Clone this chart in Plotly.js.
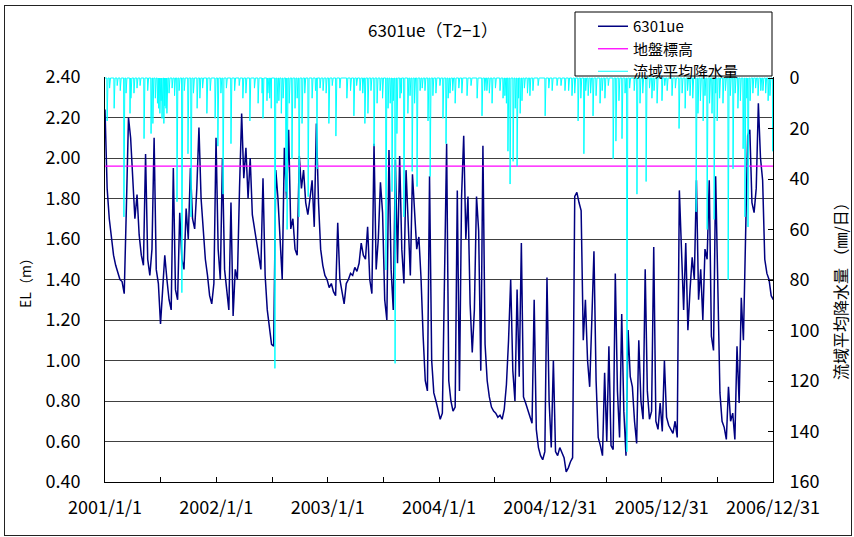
<!DOCTYPE html>
<html><head><meta charset="utf-8">
<script src="https://cdn.plot.ly/plotly-3.0.1.min.js"></script>
<style>
html,body{margin:0;padding:0;background:#fff;}
#chart{width:854px;height:537px;position:absolute;left:0;top:0;}
#frame{position:absolute;left:4px;top:5px;width:846px;height:529px;border:1px solid #222;pointer-events:none;}
</style></head><body>
<div id="chart"></div><div id="frame"></div>
<script>
// ---- data ----
const startDate = Date.UTC(2001, 0, 1);
const stepDays = 7;               // water level read once a week
const totalDays = 2190;           // 2001/1/1 .. 2006/12/31
const groundLevel = 1.96;         // 地盤標高 (m)

const wl2001 = [2.24,1.85,1.70,1.60,1.52,1.47,1.43,1.40,1.39,1.33,
 1.75,2.20,2.10,1.90,1.70,1.82,1.62,1.52,1.47,2.02,
 1.50,1.42,1.55,2.10,1.45,1.38,1.18,1.35,1.52,1.40,
 1.30,1.25,1.95,1.35,1.30,1.73,1.50,1.45,1.75,1.60,
 1.95,1.70,1.65,1.85,2.15,1.80,1.62,1.50,1.42,1.32,
 1.28,1.38];
const wl2002 = [2.10,1.55,1.40,2.00,1.45,1.35,1.25,1.78,1.22,1.45,
 1.40,1.85,2.22,1.90,2.05,1.80,2.00,1.72,1.65,1.58,
 1.50,1.45,1.90,1.42,1.25,1.15,1.08,1.07,1.94,1.80,
 1.58,1.40,2.05,1.80,2.14,1.65,1.70,1.55,1.52,2.01,
 1.85,1.94,1.78,1.72,1.80,1.89,1.66,2.17,1.78,1.55,
 1.47,1.42];
const wl2003 = [1.40,1.36,1.38,1.34,1.32,1.68,1.40,1.33,1.28,1.38,
 1.40,1.43,1.42,1.46,1.44,1.48,1.58,1.52,1.50,1.66,
 1.40,1.33,2.07,1.45,1.60,1.88,1.73,1.30,1.20,2.04,
 1.45,1.25,1.99,1.48,2.01,1.55,1.38,1.94,1.70,1.42,
 1.92,1.73,1.55,1.61,1.41,1.12,0.90,0.85,1.91,1.00,
 0.84,0.80];
const wl2004 = [0.76,0.71,0.74,1.40,2.07,0.90,0.80,0.75,0.77,1.84,
 0.85,1.81,2.11,1.60,1.81,1.28,1.04,1.25,1.81,1.64,
 0.95,2.06,1.08,0.90,0.82,0.77,0.75,0.74,0.72,0.73,
 0.71,0.76,0.88,1.10,1.40,0.95,0.80,1.35,0.92,1.58,
 0.82,0.79,0.76,0.73,0.69,1.30,0.66,0.57,0.53,0.51,
 0.55,1.41];
const wl2005 = [0.80,0.57,1.00,0.55,0.53,0.57,0.54,0.52,0.45,0.47,
 0.50,0.52,1.81,1.83,1.78,1.74,1.10,1.30,1.00,0.87,
 1.20,1.54,0.90,0.62,0.58,0.53,0.94,0.60,1.07,0.58,
 0.56,1.43,0.85,0.62,1.23,0.75,0.53,1.15,0.92,0.87,
 0.70,0.59,1.10,0.80,0.71,1.45,0.85,0.71,0.75,1.56,
 0.70,0.66];
const wl2006 = [0.79,0.65,1.00,0.72,0.68,0.66,0.64,0.70,0.62,1.84,
 1.55,1.25,1.58,1.15,1.35,1.51,1.40,1.89,1.30,1.45,
 1.20,1.55,1.50,1.89,1.12,1.05,1.91,1.28,0.84,0.70,
 0.67,0.61,0.87,0.70,0.74,0.61,1.07,0.79,1.31,1.10,
 1.64,2.11,2.14,1.78,1.73,1.85,2.27,2.00,1.89,1.50,
 1.43,1.40,1.32,1.30];

// rain events: day offset from 2001/1/1 and mm/day
const rainDays = [7,30,62,69,82,85,105,128,151,157,180,187,193,200,203,236,243,252,272,282,302,311,334,361,370,387,413,452,475,502,515,518,531,534,557,564,584,593,597,613,623,636,646,666,679,695,715,734,757,793,816,836,852,862,882,892,902,921,928,941,951,957,967,980,993,1007,1023,1033,1049,1059,1066,1075,1098,1108,1118,1131,1148,1170,1187,1220,1236,1252,1269,1295,1311,1321,1328,1338,1351,1361,1367,1393,1403,1443,1466,1482,1508,1531,1551,1570,1584,1600,1623,1639,1666,1675,1695,1711,1744,1754,1774,1793,1810,1826,1843,1859,1882,1902,1918,1938,1944,1961,1974,1990,1997,2007,2026,2043,2059,2075,2092,2098,2108,2115,2141,2157,2174,2189];
const rainMm = [17,12,55,6,14,8,4,24,22,18,14,16,18,12,14,49,5,85,30,55,12,8,14,16,27,46,26,8,17,10,6,16,9,6,115,10,8,45,60,32,12,55,18,47,8,36,5,18,23,8,15,5,18,14,27,10,5,76,12,45,113,22,8,55,14,37,43,5,5,17,39,7,3,16,26,6,10,6,7,8,15,5,10,5,7,29,42,33,35,14,9,7,5,15,5,3,5,7,17,30,7,15,10,8,32,25,24,148,46,10,41,8,10,9,5,7,20,12,7,53,14,17,60,14,56,17,10,80,36,12,28,55,59,9,7,5,9,29];
const lightRainDays = [15,40,50,95,115,140,165,172,176,184,196,210,220,228,260,290,320,345,380,398,425,440,462,490,540,545,570,578,604,630,655,690,705,725,745,770,805,825,845,872,910,935,945,972,1000,1015,1040,1085,1125,1140,1160,1200,1245,1260,1280,1305,1316,1345,1356,1375,1385,1420,1455,1495,1520,1540,1560,1576,1592,1610,1630,1650,1685,1705,1720,1735,1763,1785,1800,1835,1870,1892,1910,1927,1952,1967,1982,2002,2015,2034,2050,2066,2083,2104,2124,2133,2150,2166,2180];
const lightRainMm = [4,3,5,6,3,5,8,10,12,9,11,6,4,7,5,6,4,5,6,4,5,3,6,4,8,12,9,14,10,8,6,5,4,6,3,4,5,3,6,5,8,10,9,6,7,10,4,6,8,5,4,3,5,6,4,8,10,12,8,4,6,3,4,3,5,6,8,5,6,7,5,3,9,6,4,5,6,4,5,3,4,6,5,8,9,7,10,6,8,5,7,6,9,8,6,4,5,6,7];

const xTickLabels = ['2001/1/1','2002/1/1','2003/1/1','2004/1/1','2004/12/31','2005/12/31','2006/12/31'];
const seriesNames = ['6301ue','地盤標高','流域平均降水量'];
const rightAxisTitle = '流域平均降水量 （㎜/日）';

// ---- build ----
function toDate(days){
  const d = new Date(startDate + days*86400000);
  return d.toISOString().slice(0,19).replace('T',' ');
}
const wl = [].concat(wl2001, wl2002, wl2003, wl2004, wl2005, wl2006);
const wlX = wl.map((_, i) => toDate(i*stepDays));

const daily = new Array(totalDays+1).fill(0);
lightRainDays.forEach((d,i) => { daily[d] = lightRainMm[i]; });
rainDays.forEach((d,i) => { daily[d] = rainMm[i]; });
const rainX = daily.map((_, i) => toDate(i));

const tickVals = [], tickText = [];
for (let k = 0; k <= 12; k++) {
  tickVals.push(toDate(k*182.5));
  tickText.push(k % 2 === 0 ? xTickLabels[k/2] : '');
}

const FONT = '"Noto Sans CJK JP", "Noto Sans", sans-serif';
const W = 854, H = 537;
const px = v => (v - 105) / 668;      // pixel -> paper x
const py = v => (482 - v) / 405;      // pixel -> paper y

const traces = [
  {x: wlX, y: wl, type:'scatter', mode:'lines', name: seriesNames[0],
   line:{color:'#000080', width:1.5}},
  {x: [toDate(0), toDate(totalDays)], y:[groundLevel, groundLevel], type:'scatter', mode:'lines',
   name: seriesNames[1], line:{color:'#FF00FF', width:1.3}},
  {x: rainX, y: daily, type:'scatter', mode:'lines', name: seriesNames[2], yaxis:'y2',
   line:{color:'#00FFFF', width:1}}
];

const layout = {
  width:W, height:H,
  margin:{l:105, r:81, t:77, b:55, autoexpand:false},
  paper_bgcolor:'#fff', plot_bgcolor:'#fff',
  font:{family:FONT, color:'#000', size:16},
  title:{text:'6301ue（T2−1）', xref:'container', yref:'container',
         x:433/W, xanchor:'center', y:1-31/H, yanchor:'middle',
         font:{family:FONT, size:17, color:'#000'}},
  showlegend:true,
  legend:{xref:'container', yref:'container', x:593/W, xanchor:'left', y:1-10/H, yanchor:'top',
          borderwidth:0, bgcolor:'rgba(0,0,0,0)',
          font:{family:FONT, size:15, color:'#000'}, tracegroupgap:0},
  shapes:[{type:'rect', xref:'paper', yref:'paper', x0:px(575), x1:px(772), y0:py(76), y1:py(12),
           line:{color:'#000', width:1}, fillcolor:'#fff', layer:'above'}],
  annotations:[{text:rightAxisTitle, xref:'paper', yref:'paper', x:px(840), y:py(287),
                xanchor:'center', yanchor:'middle', textangle:-90, showarrow:false,
                font:{family:FONT, size:16, color:'#000'}}],
  xaxis:{type:'date', range:[toDate(0), toDate(totalDays)],
         tickmode:'array', tickvals:tickVals, ticktext:tickText, tickangle:0,
         ticks:'inside', ticklen:5, tickcolor:'#000', tickwidth:1,
         showline:true, linecolor:'#000', linewidth:1, mirror:false,
         showgrid:false, zeroline:false, ticklabelstandoff:9,
         tickfont:{family:FONT, size:18, color:'#000'}},
  yaxis:{range:[0.4, 2.4], tick0:0.4, dtick:0.2, tickformat:'.2f',
         showgrid:true, gridcolor:'#404040', gridwidth:1,
         showline:true, linecolor:'#000', linewidth:1, ticks:'', zeroline:false,
         tickfont:{family:FONT, size:18, color:'#000'}, ticklabelstandoff:20,
         title:{text:'EL（m）', font:{family:FONT, size:14, color:'#000'}, standoff:10}},
  yaxis2:{overlaying:'y', side:'right', range:[160, -0.4], tick0:0, dtick:20,
          showgrid:false, showline:true, linecolor:'#000', linewidth:1,
          ticks:'inside', ticklen:5, tickcolor:'#000', zeroline:false,
          tickfont:{family:FONT, size:18, color:'#000'}, ticklabelstandoff:12}
};

Plotly.newPlot('chart', traces, layout, {displayModeBar:false, staticPlot:true});
</script></body></html>
